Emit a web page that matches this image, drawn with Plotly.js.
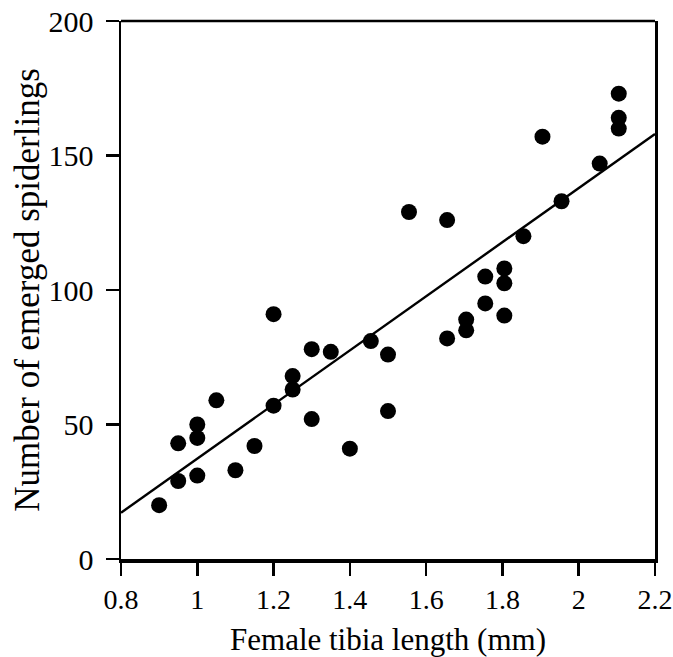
<!DOCTYPE html>
<html>
<head>
<meta charset="utf-8">
<script src="https://cdn.plot.ly/plotly-3.0.1.min.js"></script>
<style>html,body{margin:0;padding:0;background:#fff;}</style>
</head>
<body>
<div id="chart" style="width:673px;height:657px;"></div>
<script>
// Female tibia length (mm)
const tibiaLength = [0.9, 0.95, 0.95, 1.0, 1.0, 1.0, 1.05, 1.1, 1.15, 1.2, 1.2, 1.25, 1.25, 1.3, 1.3, 1.35, 1.4, 1.455, 1.5, 1.5, 1.555, 1.655, 1.655, 1.705, 1.705, 1.755, 1.755, 1.805, 1.805, 1.805, 1.855, 1.905, 1.955, 2.055, 2.105, 2.105, 2.105];
// Number of emerged spiderlings
const spiderlings = [20, 29, 43, 31, 45, 50, 59, 33, 42, 91, 57, 68, 63, 78, 52, 77, 41, 81, 76, 55, 129, 126, 82, 89, 85, 105, 95, 108, 102.5, 90.5, 120, 157, 133, 147, 173, 164, 160];
// Regression line end points
const fitX = [0.8, 2.2];
const fitY = [17.2, 158];

const xTicks = [0.8, 1, 1.2, 1.4, 1.6, 1.8, 2, 2.2];
const xTickText = ['0.8', '1', '1.2', '1.4', '1.6', '1.8', '2', '2.2'];
const yTicks = [0, 50, 100, 150, 200];
const yTickText = ['0', '50', '100', '150', '200'];

const font = '"Liberation Serif", "Times New Roman", serif';

const data = [
  {x: fitX, y: fitY, mode: 'lines', type: 'scatter',
   line: {color: '#000', width: 2.4}, hoverinfo: 'skip', showlegend: false},
  {x: tibiaLength, y: spiderlings, mode: 'markers', type: 'scatter',
   marker: {color: '#000', size: 16, line: {width: 0}}, showlegend: false, cliponaxis: false}
];

const layout = {
  width: 673, height: 657,
  margin: {l: 121, r: 18, t: 21, b: 98},
  paper_bgcolor: '#fff', plot_bgcolor: '#fff',
  font: {family: font, color: '#000', size: 30},
  xaxis: {
    range: [0.8, 2.2], tickvals: xTicks, ticktext: xTickText,
    showgrid: false, zeroline: false,
    showline: true, linecolor: '#000', linewidth: 3.5, mirror: false,
    ticks: 'outside', ticklen: 13, tickwidth: 2.5, tickcolor: '#000',
    ticklabeloverflow: 'allow',
    tickfont: {family: font, size: 28, color: '#000'},
    title: {text: 'Female tibia length (mm)', font: {family: font, size: 31, color: '#000'}},
    automargin: false, fixedrange: true
  },
  yaxis: {
    range: [0, 200], tickvals: yTicks, ticktext: yTickText,
    showgrid: false, zeroline: false,
    showline: true, linecolor: '#000', linewidth: 2.5, mirror: true,
    ticks: 'outside', ticklen: 13, tickwidth: 2.5, tickcolor: '#000',
    ticklabelstandoff: 6,
    ticklabeloverflow: 'allow',
    tickfont: {family: font, size: 30, color: '#000'},
    title: {text: 'Number of emerged spiderlings', font: {family: font, size: 35, color: '#000'}},
    automargin: false, fixedrange: true
  },
  shapes: [
    {type: 'line', xref: 'paper', yref: 'paper', x0: 0, x1: 1, y0: 1, y1: 1,
     line: {color: '#000', width: 2.5}}
  ]
};

Plotly.newPlot('chart', data, layout, {displayModeBar: false, staticPlot: true});
</script>
</body>
</html>
